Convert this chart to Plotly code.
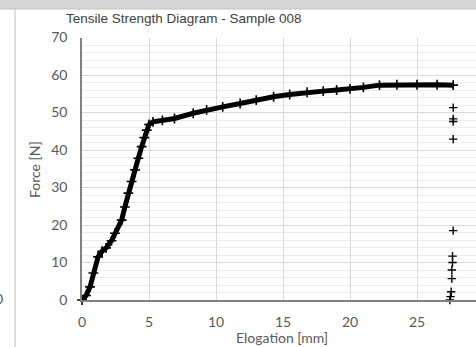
import plotly.graph_objects as go

W, H = 476, 347

# Main curve (elongation mm, force N)
elong_mm = [0, 0.3, 0.6, 0.85, 1.2, 1.5, 1.8, 2.2, 2.46, 2.96, 3.2, 3.46, 3.7,
            3.96, 4.2, 4.45, 4.65, 4.83, 5.0, 5.3, 6.0, 6.9, 8.3, 9.3, 10.5,
            11.8, 13.0, 14.3, 15.5, 16.8, 18.0, 19.0, 20.0, 21.0, 22.2, 23.5,
            25.0, 26.5, 27.7]
force_N = [0, 1.2, 3.5, 7.2, 11.5, 13.0, 13.9, 15.8, 17.8, 21.3, 24.8, 28.5,
           31.6, 34.7, 37.8, 40.9, 43.3, 45.3, 46.8, 47.5, 47.9, 48.4, 49.8,
           50.7, 51.5, 52.4, 53.3, 54.2, 54.8, 55.4, 55.7, 56.0, 56.3, 56.7,
           57.3, 57.4, 57.4, 57.4, 57.3]

# Failure (drop-off) points
tail_elong_mm = [27.7, 27.7, 27.7, 27.7, 27.7, 27.65, 27.65, 27.6, 27.6, 27.55, 27.5, 27.45]
tail_force_N = [51.3, 48.3, 47.6, 42.9, 18.5, 11.7, 10.0, 8.0, 5.7, 2.2, 0.9, 0.0]

x_ticks = [0, 5, 10, 15, 20, 25]
y_ticks = [0, 10, 20, 30, 40, 50, 60, 70]

title_text = "Tensile Strength Diagram - Sample 008"
x_title = "Elogation [mm]"
y_title = "Force [N]"

PL, PT, PB = 82, 37.5, 300
px_per_mm = 13.4
x_max = (W - PL) / px_per_mm

def px(p):
    return p / W

def py(p):
    return 1 - p / H

fig = go.Figure()
fig.add_trace(go.Scatter(
    x=elong_mm, y=force_N, mode="lines+markers",
    line=dict(color="black", width=5),
    marker=dict(symbol="cross-thin", size=7, line=dict(color="black", width=1.6)),
    showlegend=False, cliponaxis=False))
fig.add_trace(go.Scatter(
    x=tail_elong_mm, y=tail_force_N, mode="markers",
    marker=dict(symbol="cross-thin", size=6, line=dict(color="black", width=1.4)),
    showlegend=False, cliponaxis=False))

tickfont = dict(family="Lato", size=14, color="#595959")

fig.update_layout(
    width=W, height=H,
    margin=dict(l=0, r=0, t=0, b=0),
    paper_bgcolor="white", plot_bgcolor="white",
    xaxis=dict(domain=[px(PL), 1], range=[0, x_max], tickvals=x_ticks,
               showgrid=True, gridcolor="#d9d9d9", gridwidth=1,
               zeroline=False, showline=True, linecolor="#808080", linewidth=1.5,
               ticks="", tickfont=tickfont, ticklabelstandoff=8, automargin=False),
    yaxis=dict(domain=[py(PB), py(PT)], range=[0, 70], tickvals=y_ticks,
               showgrid=True, gridcolor="#d9d9d9", gridwidth=1,
               minor=dict(dtick=2, showgrid=True, gridcolor="#ececec", gridwidth=1),
               zeroline=False, showline=True, linecolor="#808080", linewidth=1.5,
               ticks="", tickfont=tickfont, ticklabelstandoff=10, automargin=False),
    shapes=[
        dict(type="rect", xref="paper", yref="paper", x0=0, x1=1, y0=py(9), y1=1,
             fillcolor="#d6d6d6", line=dict(width=0), layer="above"),
        dict(type="line", xref="paper", yref="paper", x0=0, x1=1, y0=py(9), y1=py(9),
             line=dict(color="#c4c4c4", width=1)),
        dict(type="line", xref="paper", yref="paper", x0=px(15), x1=px(15), y0=0, y1=py(9),
             line=dict(color="#d4d4d4", width=1.5)),
    ],
    annotations=[
        dict(text=title_text, xref="paper", yref="paper", x=px(184), y=py(18.5),
             xanchor="center", yanchor="middle", showarrow=False,
             font=dict(family="Liberation Sans", size=13.5, color="#404040")),
        dict(text=x_title, xref="paper", yref="paper", x=px(282), y=py(337),
             xanchor="center", yanchor="middle", showarrow=False,
             font=dict(family="Lato", size=14, color="#595959")),
        dict(text=y_title, xref="paper", yref="paper", x=px(35), y=py(170),
             xanchor="center", yanchor="middle", showarrow=False, textangle=-90,
             font=dict(family="Lato", size=14, color="#595959")),
        dict(text="30", xref="paper", yref="paper", x=px(PL + 30 * px_per_mm), y=py(320),
             xanchor="center", yanchor="middle", showarrow=False, font=tickfont),
        dict(text="0", xref="paper", yref="paper", x=px(-1), y=py(298),
             xanchor="center", yanchor="middle", showarrow=False, font=tickfont),
    ],
)

fig.write_html("out.html", config={"displayModeBar": False},
               post_script="document.body.style.margin='0';document.body.style.overflow='hidden';")
